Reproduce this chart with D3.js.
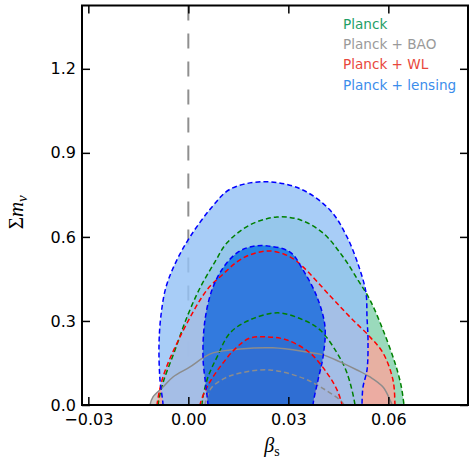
<!DOCTYPE html>
<html>
<head>
<meta charset="utf-8">
<script src="https://cdn.jsdelivr.net/npm/d3@7"></script>
<style>
  body { margin: 0; background: #fff; }
  svg { display: block; }
  .tick text { font-family: "DejaVu Sans", sans-serif; font-size: 16px; fill: #000; }
  .legend text { font-family: "DejaVu Sans", sans-serif; font-size: 13.6px; }
</style>
</head>
<body>
<div id="chart"></div>
<script>
const W = 469, H = 466;
const box = { left: 82, top: 5.5, right: 468, bottom: 405 };

const xTicks = [-0.03, 0, 0.03, 0.06];
const yTicks = [0, 0.3, 0.6, 0.9, 1.2];

const legendLabels = ["Planck", "Planck + BAO", "Planck + WL", "Planck + lensing"];
const legendColors = ["#1f9e66", "#9a9a9a", "#e8473c", "#3b8deb"];

// contour points [beta_s, sum m_nu] (95% then 68%)
const planck95 = [[-0.0092,-0.03],[-0.0091,0],[-0.0076,0.079],[-0.0040,0.196],[-0.0004,0.314],[0.0035,0.418],[0.0080,0.511],
  [0.0116,0.579],[0.0185,0.643],[0.0266,0.671],[0.0335,0.661],[0.0404,0.614],[0.0464,0.529],[0.0509,0.446],[0.0545,0.375],
  [0.0584,0.268],[0.0620,0.150],[0.0638,0.071],[0.0647,0],[0.0650,-0.03]];
const planck68 = [[0.0041,-0.03],[0.0041,0],[0.0044,0.029],[0.0059,0.100],[0.0086,0.171],[0.0125,0.257],[0.0185,0.304],
  [0.0269,0.329],[0.0344,0.304],[0.0395,0.268],[0.0446,0.186],[0.0476,0.114],[0.0500,0],[0.0501,-0.03]];

const bao95 = [[-0.0116,-0.03],[-0.0115,0],[-0.0106,0.029],[-0.0076,0.064],[-0.0046,0.100],[0.0005,0.136],[0.0044,0.168],
  [0.0074,0.186],[0.0155,0.200],[0.0254,0.204],[0.0356,0.189],[0.0404,0.179],[0.0455,0.154],[0.0506,0.125],[0.0545,0.100],
  [0.0584,0.064],[0.0605,0.018],[0.0611,0],[0.0613,-0.03]];
const bao68 = [[0.0050,-0.03],[0.0050,0],[0.0059,0.036],[0.0071,0.064],[0.0110,0.096],[0.0155,0.114],[0.0245,0.125],
  [0.0344,0.096],[0.0401,0.061],[0.0455,0.018],[0.0467,0],[0.0468,-0.03]];

const wl95 = [[-0.0095,-0.03],[-0.0094,0],[-0.0076,0.100],[-0.0025,0.243],[0.0056,0.411],[0.0104,0.467],[0.0146,0.511],
  [0.0185,0.536],[0.0245,0.550],[0.0305,0.529],[0.0344,0.493],[0.0425,0.390],[0.0485,0.314],[0.0545,0.243],[0.0584,0.186],
  [0.0614,0.089],[0.0620,0],[0.0621,-0.03]];
const wl68 = [[0.0035,-0.03],[0.0035,0],[0.0056,0.064],[0.0095,0.136],[0.0146,0.207],[0.0185,0.239],[0.0236,0.243],
  [0.0296,0.232],[0.0365,0.186],[0.0416,0.114],[0.0446,0.054],[0.0461,0],[0.0463,-0.03]];

const lens95 = [[-0.0078,-0.03],[-0.0076,0],[-0.0085,0.089],[-0.0088,0.214],[-0.0082,0.321],[-0.0067,0.421],[-0.0037,0.511],
  [0.0005,0.600],[0.0071,0.707],[0.0125,0.770],[0.0225,0.797],[0.0335,0.772],[0.0425,0.696],[0.0476,0.600],
  [0.0515,0.482],[0.0533,0.400],[0.0536,0.314],[0.0539,0.232],[0.0536,0.125],[0.0524,0.064],[0.0521,0],[0.0521,-0.03]];
const lens68 = [[0.0059,-0.03],[0.0059,0],[0.0053,0.064],[0.0044,0.171],[0.0050,0.304],[0.0071,0.411],[0.0104,0.489],
  [0.0146,0.543],[0.0185,0.564],[0.0236,0.568],[0.0305,0.546],[0.0344,0.482],[0.0386,0.386],[0.0410,0.279],[0.0404,0.171],
  [0.0389,0.089],[0.0374,0],[0.0374,-0.03]];

// draw order: first is at the bottom
const sets = [
  { outer: planck95, inner: planck68, fill95: "rgb(120,205,165)", fill68: "rgb(60,170,120)", op: 0.75, line: "#008000", dash95: "5,3", dash68: "5,3" },
  { outer: bao95, inner: bao68, fill95: "rgb(190,190,190)", fill68: "rgb(150,150,150)", op: 0.75, line: "#8c8c8c", dash95: null, dash68: "5,3" },
  { outer: wl95, inner: wl68, fill95: "rgb(250,165,155)", fill68: "rgb(235,100,90)", op: 0.8, line: "#ff0000", dash95: "5,3", dash68: "5,3" },
  { outer: lens95, inner: lens68, fill95: "rgb(149,194,245)", fill68: "rgb(10,110,235)", op: 0.82, line: "#0000ff", dash95: "5,3", dash68: "5,3" }
];

const x = d3.scaleLinear().domain([-0.0319, 0.0839]).range([box.left, box.right]);
const y = d3.scaleLinear().domain([0, 1.426]).range([box.bottom, box.top]);

const svg = d3.select("#chart").append("svg").attr("width", W).attr("height", H);

svg.append("clipPath").attr("id", "plot-clip")
  .append("rect").attr("x", box.left).attr("y", box.top)
  .attr("width", box.right - box.left).attr("height", box.bottom - box.top);

const plotG = svg.append("g").attr("clip-path", "url(#plot-clip)");

const line = d3.line().x(d => x(d[0])).y(d => y(d[1])).curve(d3.curveCatmullRom.alpha(0.5));

// vertical reference line at beta_s = 0
plotG.append("line")
  .attr("x1", x(0)).attr("x2", x(0)).attr("y1", y.range()[1]).attr("y2", y.range()[0])
  .attr("stroke", "#8f8f8f").attr("stroke-width", 2).attr("stroke-dasharray", "15,13");

// filled rings (95% minus 68%) and inner regions
sets.forEach(s => {
  plotG.append("path")
    .attr("d", line(s.outer) + "Z" + line(s.inner) + "Z")
    .attr("fill-rule", "evenodd")
    .attr("fill", s.fill95).attr("fill-opacity", s.op);
  plotG.append("path")
    .attr("d", line(s.inner) + "Z")
    .attr("fill", s.fill68).attr("fill-opacity", s.op);
});

// contour lines on top
sets.forEach(s => {
  [[s.outer, s.dash95], [s.inner, s.dash68]].forEach(([pts, dash]) => {
    plotG.append("path")
      .attr("d", line(pts))
      .attr("fill", "none")
      .attr("stroke", s.line).attr("stroke-width", 1.5)
      .attr("stroke-dasharray", dash);
  });
});

// axes: ticks inside on all four sides
const fmtX = d3.format(".2f"), fmtY = d3.format(".1f");
const bottomAxis = svg.append("g").attr("transform", `translate(0,${box.bottom})`)
  .call(d3.axisBottom(x).tickValues(xTicks).tickFormat(fmtX).tickSizeInner(-8).tickSizeOuter(0).tickPadding(9));
const topAxis = svg.append("g").attr("transform", `translate(0,${box.top})`)
  .call(d3.axisTop(x).tickValues(xTicks).tickFormat("").tickSizeInner(-8).tickSizeOuter(0));
const leftAxis = svg.append("g").attr("transform", `translate(${box.left},0)`)
  .call(d3.axisLeft(y).tickValues(yTicks).tickFormat(fmtY).tickSizeInner(-8).tickSizeOuter(0).tickPadding(6));
const rightAxis = svg.append("g").attr("transform", `translate(${box.right},0)`)
  .call(d3.axisRight(y).tickValues(yTicks).tickFormat("").tickSizeInner(-8).tickSizeOuter(0));

[bottomAxis, topAxis, leftAxis, rightAxis].forEach(a => {
  a.select(".domain").remove();
  a.selectAll(".tick line").attr("stroke", "#000").attr("stroke-width", 1.5);
});

svg.append("rect")
  .attr("x", box.left).attr("y", box.top)
  .attr("width", box.right - box.left).attr("height", box.bottom - box.top)
  .attr("fill", "none").attr("stroke", "#000").attr("stroke-width", 2);

// axis labels
const xl = svg.append("text")
  .attr("x", 272).attr("y", 452)
  .attr("text-anchor", "middle")
  .style("font-family", "'Liberation Serif', serif").style("font-size", "20px");
xl.append("tspan").style("font-style", "italic").text("β");
xl.append("tspan").attr("dy", 4).style("font-size", "14px").text("s");

const yl = svg.append("text")
  .attr("transform", `translate(23,${(box.top + box.bottom) / 2 + 7}) rotate(-90)`)
  .attr("text-anchor", "middle")
  .style("font-family", "'Liberation Serif', serif").style("font-size", "21px");
yl.append("tspan").text("Σ");
yl.append("tspan").style("font-style", "italic").text("m");
yl.append("tspan").attr("dy", 4).style("font-style", "italic").style("font-size", "15px").text("ν");

// legend as coloured text
const legend = svg.append("g").attr("class", "legend");
legend.selectAll("text").data(legendLabels).join("text")
  .attr("x", 343).attr("y", (d, i) => 29 + i * 20.2)
  .attr("fill", (d, i) => legendColors[i])
  .text(d => d);
</script>
</body>
</html>
